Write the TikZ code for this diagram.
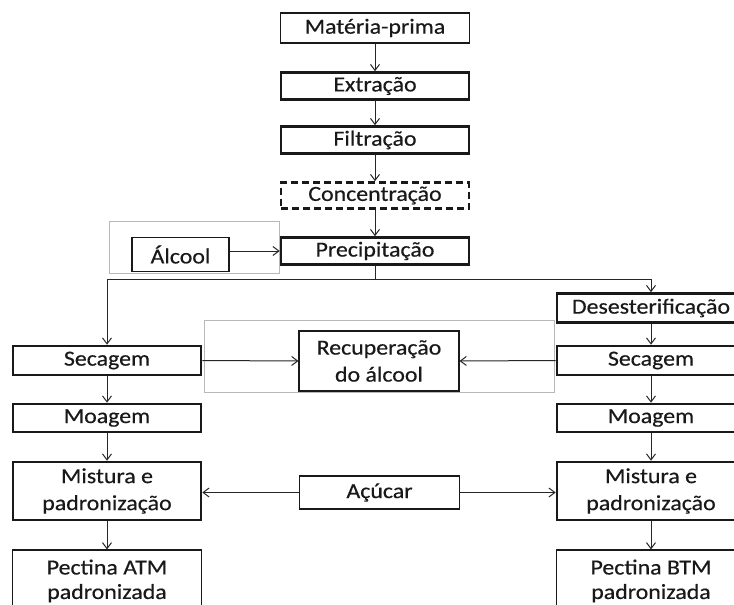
\documentclass[tikz,border=0pt]{standalone}
\usepackage{fontspec}
\setmainfont{Carlito}[FakeStretch=1.11,FakeBold=0.4]
\usetikzlibrary{arrows.meta}
\begin{document}
\begin{tikzpicture}[x=1pt,y=-1pt,
  basebox/.style={draw=black!90, inner sep=0pt, align=center, text=black!90,
    font=\fontsize{21.5}{27}\selectfont},
  thinbox/.style={basebox, line width=1.1pt},
  thickbox/.style={basebox, line width=2.6pt},
  dashbox/.style={basebox, line width=2.6pt, dash pattern=on 7pt off 4pt},
  endbox/.style={thinbox, font=\fontsize{21.5}{24.5}\selectfont},
  grayframe/.style={draw=black!28, line width=0.8pt},
  conn/.style={draw=black!85, line width=1pt, -{Straight Barb[length=6pt,width=9pt]}},
  plainline/.style={draw=black!85, line width=1pt}]
\clip (0,0) rectangle (734,605);
\useasboundingbox (0,0) rectangle (734,605);
\fill[white] (0,0) rectangle (734,605);
% gray frames
\draw[grayframe] (109,221) rectangle (279,273);
\draw[grayframe] (204,320) rectangle (554,392);
% central column
\node[thinbox, minimum width=189pt, minimum height=30pt] (mp) at (375,28) {Matéria-prima};
\node[thickbox, minimum width=188pt, minimum height=27pt] (ext) at (375,86) {Extração};
\node[thickbox, minimum width=188pt, minimum height=27pt] (fil) at (375,140) {Filtração};
\node[dashbox, minimum width=188pt, minimum height=26pt] (con) at (375,195.5) {Concentração};
\node[thickbox, minimum width=188pt, minimum height=27pt] (pre) at (375,251) {Precipitação};
\node[thinbox, minimum width=97pt, minimum height=34pt] (alc) at (180.5,254.5) {Álcool};
% left column
\node[thickbox, minimum width=188pt, minimum height=29pt] (secL) at (107,360.5) {Secagem};
\node[thickbox, minimum width=188pt, minimum height=28pt] (moaL) at (107,418) {Moagem};
\node[thickbox, minimum width=188pt, minimum height=58pt] (misL) at (107,491) {Mistura e\\padronização};
\node[endbox, minimum width=189pt, minimum height=62pt] (pecL) at (107,581) {Pectina ATM\\padronizada};
% right column
\node[thickbox, minimum width=188pt, minimum height=29pt] (des) at (651,308) {Desesterificação};
\node[thickbox, minimum width=188pt, minimum height=29pt] (secR) at (651,360.5) {Secagem};
\node[thickbox, minimum width=188pt, minimum height=28pt] (moaR) at (651,418) {Moagem};
\node[thickbox, minimum width=188pt, minimum height=58pt] (misR) at (651,491) {Mistura e\\padronização};
\node[endbox, minimum width=189pt, minimum height=62pt] (pecR) at (651,581) {Pectina BTM\\padronizada};
% middle
\node[thinbox, minimum width=160pt, minimum height=60pt] (rec) at (379,361) {Recuperação\\do álcool};
\node[thinbox, minimum width=160pt, minimum height=33pt] (acu) at (379.5,492.5) {Açúcar};
% connectors
\draw[conn] (mp) -- (ext);
\draw[conn] (ext) -- (fil);
\draw[conn] (fil) -- (con);
\draw[conn] (con) -- (pre);
\draw[conn] (alc.east |- pre.west) -- (pre.west);
\coordinate (split) at (375,279);
\draw[plainline] (pre.south) -- (split);
\draw[conn] (split) -| (secL.north);
\draw[conn] (split) -| (des.north);
\draw[conn] (des) -- (secR);
\draw[conn] (secL) -- (moaL);
\draw[conn] (secR) -- (moaR);
\draw[conn] (moaL) -- (misL);
\draw[conn] (moaR) -- (misR);
\draw[conn] (misL) -- (pecL);
\draw[conn] (misR) -- (pecR);
\draw[conn] (secL.east) -- (rec.west);
\draw[conn] (secR.west) -- (rec.east);
\draw[conn] (acu.west) -- (acu.west -| misL.east);
\draw[conn] (acu.east) -- (acu.east -| misR.west);
\end{tikzpicture}
\end{document}
